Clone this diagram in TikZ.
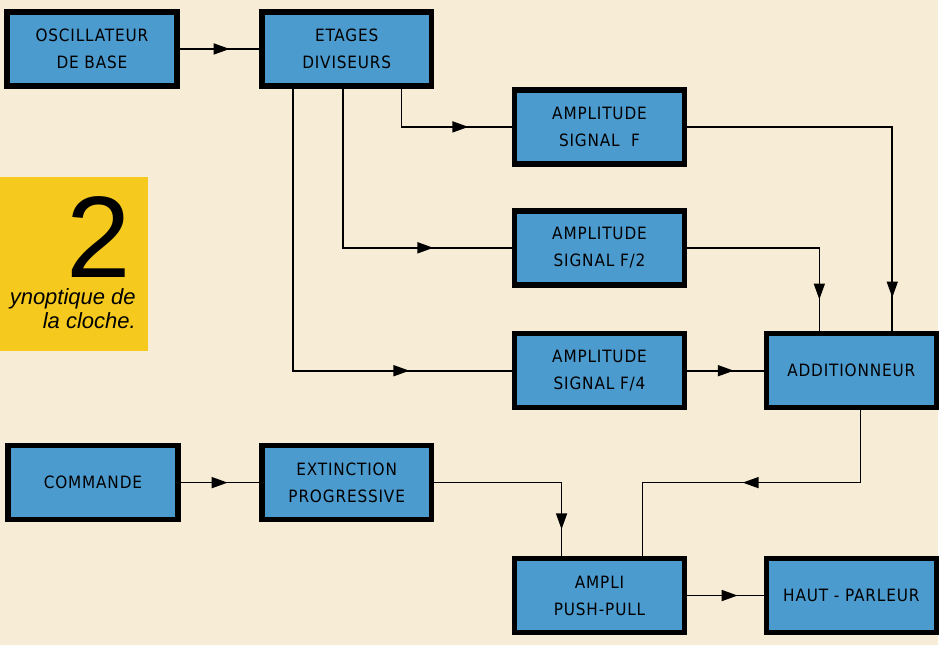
\documentclass[tikz,border=0pt]{standalone}
\usepackage{fontspec}
\usepackage{xcolor}
\usepackage{tikz}
\usetikzlibrary{arrows.meta, decorations.markings}
\newfontfamily\blockfont[LetterSpace=5]{DejaVu Sans Condensed}
\newfontfamily\legendfont{Liberation Sans}
\definecolor{synPaper}{HTML}{F7EDD6}
\definecolor{synBlue}{HTML}{4C9BCF}
\definecolor{synYellow}{HTML}{F5C91E}

\begin{document}
\begin{tikzpicture}[x=1pt, y=-1pt,
  block/.style={draw=black, line width=5.5pt, fill=synBlue, minimum width=170pt,
                minimum height=74pt, align=center, inner sep=2pt,
                font=\blockfont\fontsize{17}{27}\selectfont},
  wire/.style={line width=1.6pt},
  arr/.style={wire, postaction={decorate}, decoration={markings,
              mark=at position #1 with {\arrow{Triangle[length=16pt, width=11pt]}}}}]
\fill[synPaper] (0,0) rectangle (939,646);
% ---- caption
\fill[synYellow] (0,177) rectangle (148,351);
\node[anchor=base east, inner sep=0pt, font=\legendfont\fontsize{116}{116}\selectfont] (fignum) at (131,278) {2};
\node[anchor=north east, inner sep=0pt, align=right,
      font=\legendfont\itshape\fontsize{22}{24}\selectfont] (figcap) at (136,289) {ynoptique de\\la cloche.};
% ---- blocks
\node[block] (osc)    at (92,49)   {OSCILLATEUR\\DE BASE};
\node[block] (etages) at (347,49)  {ETAGES\\DIVISEURS};
\node[block] (ampf)   at (600,127) {AMPLITUDE\\SIGNAL \ F};
\node[block] (ampfb)  at (600,248) {AMPLITUDE\\SIGNAL F/2};
\node[block] (ampfd)  at (600,371) {AMPLITUDE\\SIGNAL F/4};
\node[block] (add)    at (852,371) {ADDITIONNEUR};
\node[block] (cmd)    at (93,483)  {COMMANDE};
\node[block] (ext)    at (347,483) {EXTINCTION\\PROGRESSIVE};
\node[block] (ampli)  at (600,596) {AMPLI\\PUSH-PULL};
\node[block] (hp)     at (852,596) {HAUT - PARLEUR};
% ---- bends
\coordinate (dF)  at (402,127);
\coordinate (dFb) at (343,248);
\coordinate (dFd) at (293,371);
\coordinate (uF)  at (893,127);
\coordinate (uFb) at (820,248);
\coordinate (sA)  at (861,483);
\coordinate (sB)  at (643,483);
\coordinate (sC)  at (562,483);
% ---- divider outputs
\draw[arr=0.63] (osc) -- (etages);
\draw[arr=105pt] (etages.south -| dF) |- (ampf.west);
\draw[arr=250pt] (etages.south -| dFb) |- (ampfb.west);
\draw[arr=399pt] (etages.south -| dFd) |- (ampfd.west);
% ---- into the adder
\draw[arr=376pt] (ampf.east) -| (add.north -| uF);
\draw[arr=184pt] (ampfb.east) -| (add.north -| uFb);
\draw[arr=0.61] (ampfd) -- (add);
% ---- output stage
\draw[arr=190pt] (add.south -| sA) |- (sB) -- (ampli.north -| sB);
\draw[arr=0.6] (cmd) -- (ext);
\draw[arr=174pt] (ext.east) -| (ampli.north -| sC);
\draw[arr=0.66] (ampli) -- (hp);
\end{tikzpicture}
\end{document}
